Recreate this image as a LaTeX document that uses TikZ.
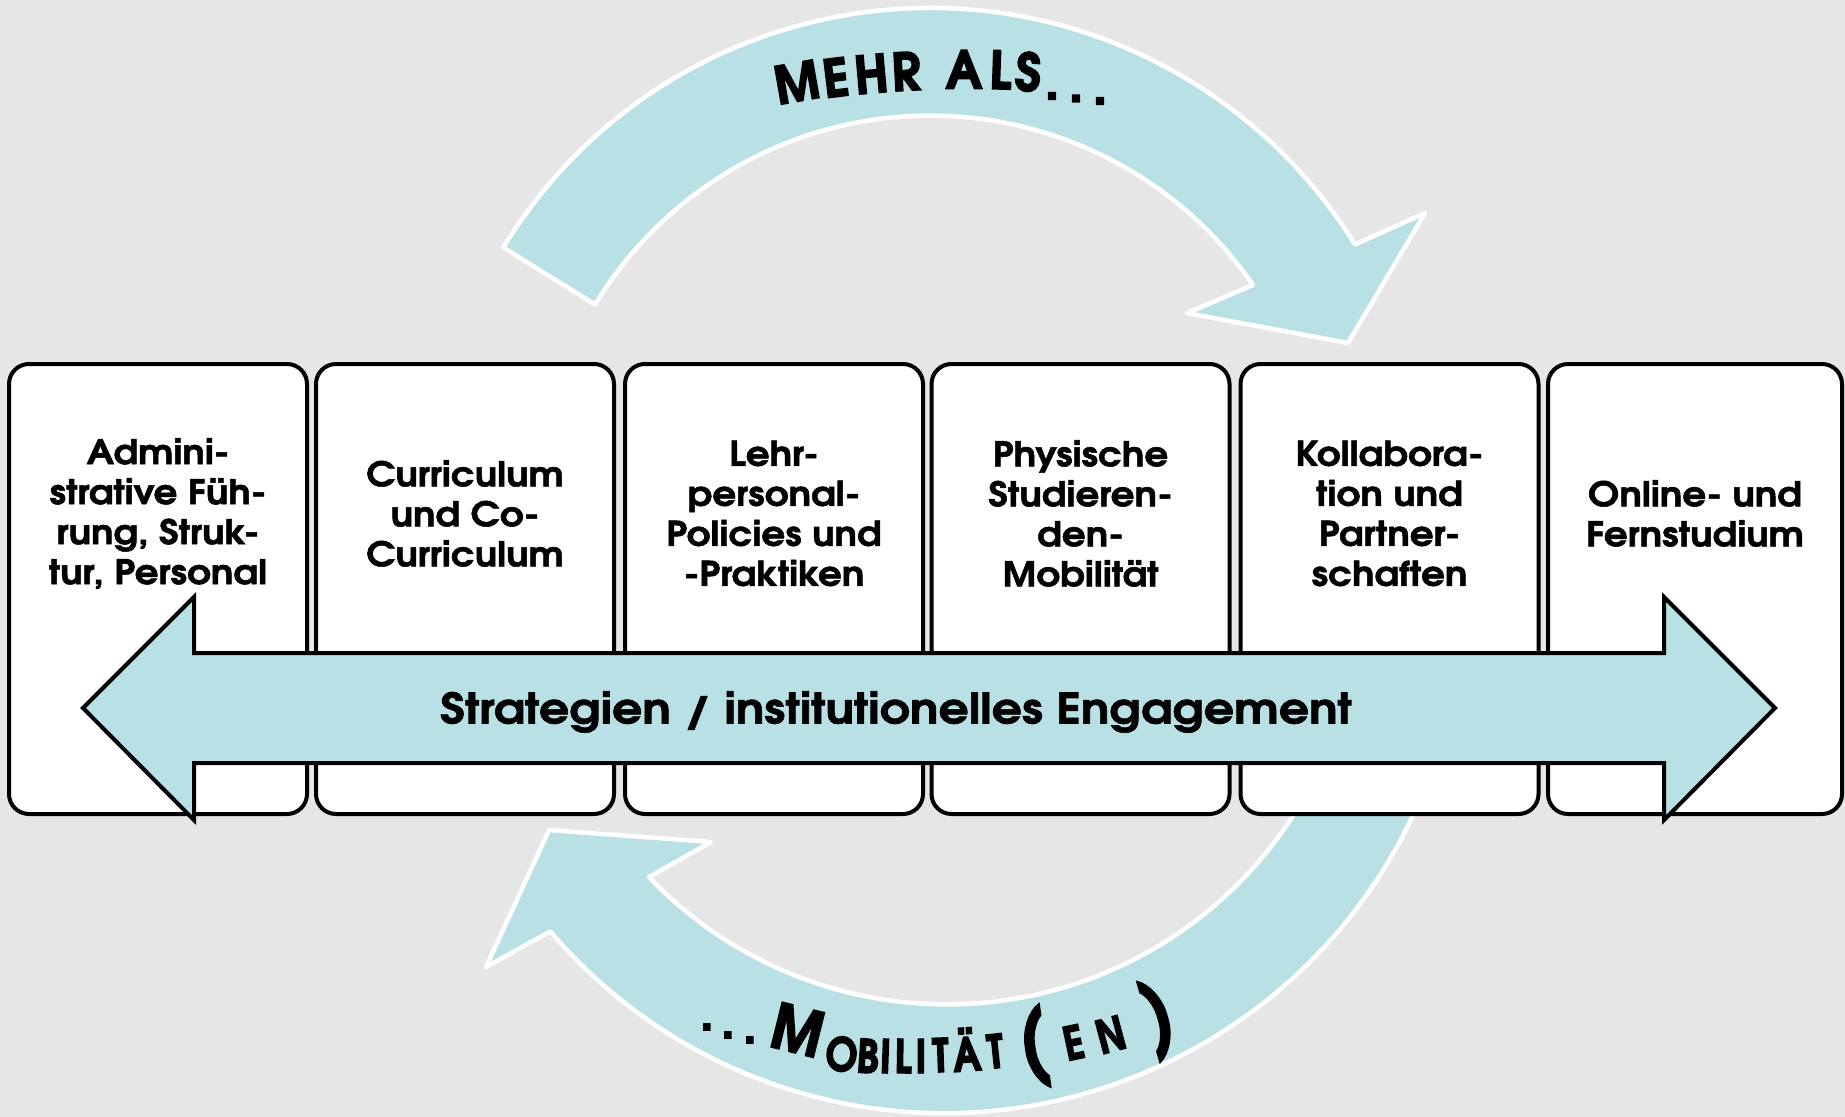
\documentclass[tikz,border=0pt]{standalone}
\usepackage{fontspec}
\setmainfont{texgyreadventor}[Extension=.otf, UprightFont=*-regular, BoldFont=*-bold, ItalicFont=*-italic, BoldItalicFont=*-bolditalic]
\newfontfamily\panelfont{texgyreadventor}[Extension=.otf, UprightFont=*-bold, FakeStretch=1.1, FakeBold=1.5]
\newfontfamily\stratfont{texgyreadventor}[Extension=.otf, UprightFont=*-bold, FakeStretch=1.13, FakeBold=1.5]
\newfontfamily\topfont{texgyreadventor}[Extension=.otf, UprightFont=*-bold, FakeStretch=0.95, FakeBold=3]
\newfontfamily\botfont{texgyreadventor}[Extension=.otf, UprightFont=*-bold, FakeStretch=0.9, FakeBold=3]
\newfontfamily\botsmallfont{texgyreadventor}[Extension=.otf, UprightFont=*-bold, FakeStretch=0.82, FakeBold=3]
\newfontfamily\parenfont{texgyreadventor}[Extension=.otf, UprightFont=*-bold, FakeStretch=0.75, FakeBold=3]
\definecolor{bggray}{RGB}{230,230,230}
\definecolor{arcblue}{RGB}{185,224,228}
\tikzset{
  panel/.style={draw=black, line width=2pt, fill=white, rounded corners=10pt,
    minimum width=149pt, minimum height=225pt, inner sep=0pt, outer sep=0pt},
  paneltext/.style={font=\panelfont\fontsize{17pt}{20pt}\selectfont, align=center,
    text=black, inner sep=0pt},
  band/.style={fill=arcblue, draw=white, line width=2.25pt, line join=round},
  strat/.style={fill=arcblue, draw=black, line width=2pt, line join=miter},
  strattext/.style={font=\stratfont\fontsize{21pt}{24pt}\selectfont, text=black, inner sep=0pt},
  arcch/.style={anchor=base, inner sep=0pt, outer sep=0pt, text=black},
  topch/.style={arcch, font=\topfont\fontsize{26pt}{28pt}\selectfont},
  topdot/.style={topch, anchor=center},
  botbig/.style={arcch, font=\botfont\fontsize{31pt}{33pt}\selectfont},
  botsmall/.style={arcch, font=\botsmallfont\fontsize{23pt}{25pt}\selectfont},
  botdot/.style={arcch, anchor=center, font=\botfont\fontsize{25pt}{27pt}\selectfont},
  botparen/.style={arcch, anchor=center, font=\parenfont\fontsize{41pt}{43pt}\selectfont},
}
\begin{document}
\begin{tikzpicture}[x=0.5pt, y=-0.5pt]
% background
\fill[bggray] (0,0) rectangle (1845,1117);
\useasboundingbox (0,0) rectangle (1845,1117);

% upper curved arrow
\path[band] (503.3,247.5) arc[start angle=-148.6, end angle=-31.8, radius=500]
  -- (1425,213) -- (1348,343) -- (1187,313) -- (1253,285)
  arc[start angle=-34.6, end angle=-148.8, radius=392] -- cycle;

% lower curved arrow (behind the panels)
\path[band] (1430.8,772.2) arc[start angle=20, end angle=139.5, radius=518]
  -- (486,967) -- (549,830) -- (711,842) -- (649,877)
  arc[start angle=136.3, end angle=20, radius=412] -- cycle;

% panels
\node[panel] (p1) at (158,589) {};
\node[panel] (p2) at (465,589) {};
\node[panel] (p3) at (774,589) {};
\node[panel] (p4) at (1080.5,589) {};
\node[panel] (p5) at (1389.5,589) {};
\node[panel, minimum width=147pt] (p6) at (1695,589) {};

\node[paneltext] (t1) at (158,513.5) {Admini-\\strative Füh-\\rung, Struk-\\tur, Personal};
\node[paneltext] (t2) at (465,513.5) {Curriculum\\und Co-\\Curriculum};
\node[paneltext] (t3) at (774,513.5) {Lehr-\\personal-\\Policies und\\-Praktiken};
\node[paneltext] (t4) at (1080.5,513.5) {Physische\\Studieren-\\den-\\Mobilität};
\node[paneltext] (t5) at (1389.5,513.5) {Kollabora-\\tion und\\Partner-\\schaften};
\node[paneltext] (t6) at (1695,513.5) {Online- und\\Fernstudium};

% double arrow
\draw[strat] (83,708) -- (194,597) -- (194,653) -- (1664,653) -- (1664,597)
  -- (1775,708) -- (1664,820) -- (1664,763) -- (194,763) -- (194,820) -- cycle;
\node[strattext] (st) at (896,712) {Strategien / institutionelles Engagement};

% "MEHR ALS..." along the upper arrow
\node[topch, rotate=10] (m1) at (800,101) {M};
\node[topch, rotate=7] (m2) at (838,96.5) {E};
\node[topch, rotate=5] (m3) at (873,93) {H};
\node[topch, rotate=3] (m4) at (907,90.5) {R};
\node[topch, rotate=0] (m5) at (964,88.5) {A};
\node[topch, rotate=-2] (m6) at (1000,89) {L};
\node[topch, rotate=-4] (m7) at (1027,91) {S};
\node[topdot] (m8) at (1052,96) {.};
\node[topdot] (m9) at (1076,98.5) {.};
\node[topdot] (m10) at (1100,101) {.};

% "...MOBILITÄT(EN)" along the lower arrow
\node[botdot] (n1) at (707,1027) {.};
\node[botdot] (n2) at (728,1035) {.};
\node[botdot] (n3) at (750,1040) {.};
\node[botbig, rotate=-14] (n4) at (792,1052) {M};
\node[botsmall, rotate=-6] (n5) at (840,1071) {O};
\node[botsmall, rotate=-4] (n6) at (867,1073) {B};
\node[botsmall, rotate=-2] (n7) at (885,1073) {I};
\node[botsmall, rotate=-1] (n8) at (903,1073) {L};
\node[botsmall, rotate=0] (n9) at (921,1073) {I};
\node[botsmall, rotate=2] (n10) at (941,1072) {T};
\node[botsmall, rotate=4] (n11) at (968,1071) {Ä};
\node[botsmall, rotate=6] (n12) at (997,1068) {T};
\node[botparen, rotate=8] (n13) at (1034,1047) {(};
\node[botsmall, rotate=12] (n14) at (1077,1059) {E};
\node[botsmall, rotate=15] (n15) at (1115,1051) {N};
\node[botparen, rotate=16] (n16) at (1159,1019) {)};
\end{tikzpicture}
\end{document}
